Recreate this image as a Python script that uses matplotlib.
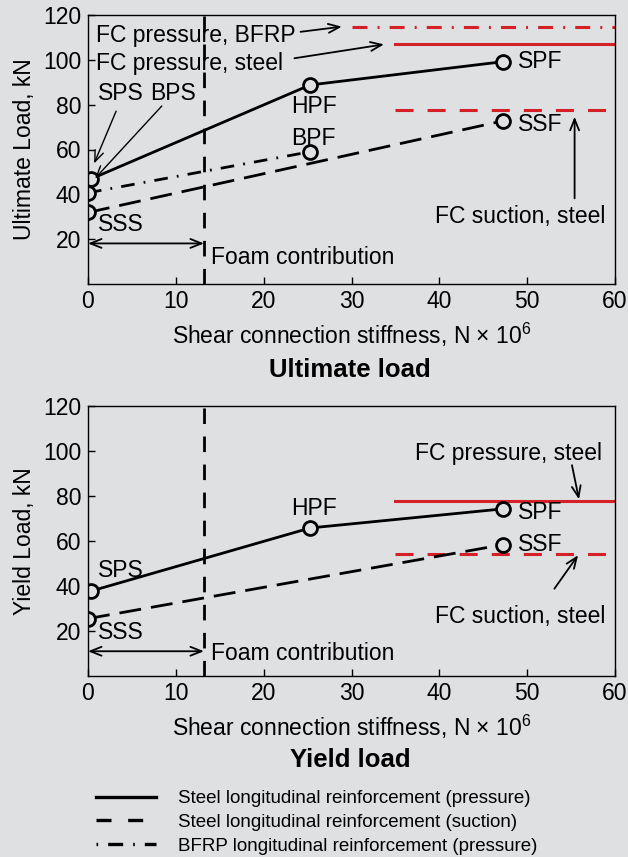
import numpy as np
import matplotlib
matplotlib.use("Agg")
import matplotlib.pyplot as plt
from matplotlib.lines import Line2D

# ======================
# Data (kN vs shear connection stiffness, N x 10^6)
# ======================
# ultimate load
ult_x_steel_p = [0.3, 25.3, 47.3]
ult_y_steel_p = [46.8, 88.8, 99.2]
ult_x_steel_s = [0.0, 47.3]
ult_y_steel_s = [31.9, 72.8]
ult_x_bfrp_p = [0.0, 25.3]
ult_y_bfrp_p = [40.7, 59.0]
ult_fc_bfrp_p = 114.5
ult_fc_steel_p = 106.9
ult_fc_steel_s = 77.6

# yield load
yld_x_steel_p = [0.3, 25.3, 47.3]
yld_y_steel_p = [37.7, 65.8, 74.3]
yld_x_steel_s = [0.0, 47.3]
yld_y_steel_s = [25.5, 58.4]
yld_fc_steel_p = 77.6
yld_fc_steel_s = 54.4

foam_x = 13.2          # foam contribution limit
fc_x = [35, 60]        # extent of full-composite reference lines
fc_x_bfrp = [30, 60]

xticks = [0, 10, 20, 30, 40, 50, 60]
yticks = [20, 40, 60, 80, 100, 120]

# ======================
# Style
# ======================
BG = "#dfe0e2"
RED = "#d42027"
FS = 16.5
plt.rcParams["font.family"] = ["Liberation Sans", "DejaVu Sans"]
plt.rcParams["mathtext.fontset"] = "custom"
plt.rcParams["mathtext.rm"] = "Liberation Sans"
plt.rcParams["mathtext.it"] = "Liberation Sans:italic"

SOLID = "-"
DASH = (0, (7.9, 3.6))
DASHDOT = (0, (4.9, 3.3, 0.65, 3.3))
RDASH = (0, (5.9, 4.6))
RDASHDOT = (0, (4.9, 3.3, 0.65, 3.3))
VDASH = (0, (5.6, 4.5))
HEAD = "->,head_length=0.8,head_width=0.32"

mk = dict(marker="o", ms=10, mew=2, mfc=BG, mec="k")

fig = plt.figure(figsize=(6.28, 8.57), dpi=100, facecolor=BG)
ax1 = fig.add_axes([88 / 628, 1 - 284 / 857, 527 / 628, 269 / 857])
ax2 = fig.add_axes([88 / 628, 1 - 676 / 857, 527 / 628, 270 / 857])


def setup(ax, ylabel):
    ax.set_facecolor(BG)
    ax.set_xlim(0, 60)
    ax.set_ylim(0, 120)
    ax.set_xticks(xticks)
    ax.set_yticks(yticks)
    ax.tick_params(direction="in", length=5, width=1, labelsize=FS, pad=4)
    ax.tick_params(axis="y", pad=5)
    for s in ax.spines.values():
        s.set_linewidth(1)
    ax.set_xlabel(r"Shear connection stiffness, N $\times$ 10$^6$", fontsize=FS, labelpad=6)
    ax.set_ylabel(ylabel, fontsize=FS, labelpad=5)
    ax.axvline(foam_x, color="k", lw=2, ls=VDASH)


def arrow(ax, xy, xytext, lw=1.3, style=HEAD):
    ax.annotate("", xy=xy, xytext=xytext,
                arrowprops=dict(arrowstyle=style, color="k", lw=lw, shrinkA=0, shrinkB=0))


# ======================
# Ultimate load
# ======================
setup(ax1, "Ultimate Load, kN")
ax1.plot(fc_x_bfrp, [ult_fc_bfrp_p] * 2, color=RED, lw=2.2, ls=RDASHDOT)
ax1.plot(fc_x, [ult_fc_steel_p] * 2, color=RED, lw=2.2, ls=SOLID)
ax1.plot(fc_x, [ult_fc_steel_s] * 2, color=RED, lw=2.2, ls=RDASH)
ax1.plot(ult_x_steel_s, ult_y_steel_s, color="k", lw=2, ls=DASH, **mk)
ax1.plot(ult_x_bfrp_p, ult_y_bfrp_p, color="k", lw=2, ls=DASHDOT, **mk)
ax1.plot(ult_x_steel_p, ult_y_steel_p, color="k", lw=2, ls=SOLID, **mk)

ax1.text(0.9, 108.1, "FC pressure, BFRP", fontsize=FS)
ax1.text(0.9, 95.4, "FC pressure, steel", fontsize=FS)
ax1.text(1.1, 82.1, "SPS", fontsize=FS)
ax1.text(7.1, 82.1, "BPS", fontsize=FS)
ax1.text(25.7, 76.4, "HPF", fontsize=FS, ha="center")
ax1.text(25.7, 62.0, "BPF", fontsize=FS, ha="center")
ax1.text(49.0, 96.5, "SPF", fontsize=FS)
ax1.text(49.0, 68.4, "SSF", fontsize=FS)
ax1.text(1.1, 23.6, "SSS", fontsize=FS)
ax1.text(58.9, 27.0, "FC suction, steel", fontsize=FS, ha="right")
ax1.text(14.0, 8.7, "Foam contribution", fontsize=FS)

arrow(ax1, (28.9, 114.8), (24.2, 112.5))
arrow(ax1, (33.7, 106.9), (23.5, 100.7))
arrow(ax1, (0.7, 53.8), (3.2, 77.1), lw=1.0)
arrow(ax1, (0.8, 47.1), (8.4, 79.4), lw=1.0)
arrow(ax1, (55.4, 74.6), (55.4, 38.2))
arrow(ax1, (foam_x, 18.1), (0, 18.1), style="<" + HEAD)

# ======================
# Yield load
# ======================
setup(ax2, "Yield Load, kN")
ax2.plot(fc_x, [yld_fc_steel_p] * 2, color=RED, lw=2.2, ls=SOLID)
ax2.plot([35, 59], [yld_fc_steel_s] * 2, color=RED, lw=2.2, ls=RDASH)
ax2.plot(yld_x_steel_s, yld_y_steel_s, color="k", lw=2, ls=DASH, **mk)
ax2.plot(yld_x_steel_p, yld_y_steel_p, color="k", lw=2, ls=SOLID, **mk)

ax2.text(25.7, 71.5, "HPF", fontsize=FS, ha="center")
ax2.text(49.0, 69.6, "SPF", fontsize=FS)
ax2.text(49.0, 55.6, "SSF", fontsize=FS)
ax2.text(1.1, 44.0, "SPS", fontsize=FS)
ax2.text(1.1, 16.6, "SSS", fontsize=FS)
ax2.text(58.5, 96.0, "FC pressure, steel", fontsize=FS, ha="right")
ax2.text(58.9, 23.6, "FC suction, steel", fontsize=FS, ha="right")
ax2.text(14.0, 7.3, "Foam contribution", fontsize=FS)

arrow(ax2, (55.9, 78.5), (55.1, 93.7))
arrow(ax2, (55.8, 53.7), (53.1, 38.8))
arrow(ax2, (foam_x, 11.0), (0, 11.0), style="<" + HEAD)

# ======================
# Titles and legend
# ======================
fig.text(350 / 628, 1 - 370 / 857, "Ultimate load", fontsize=18.5, fontweight="bold",
         ha="center", va="center")
fig.text(350 / 628, 1 - 760 / 857, "Yield load", fontsize=18.5, fontweight="bold",
         ha="center", va="center")

handles = [
    Line2D([], [], color="k", lw=2.4, ls=SOLID),
    Line2D([], [], color="k", lw=2.4, ls=(0, (4.5, 5.0))),
    Line2D([], [], color="k", lw=2.4, ls=(0, (0.5, 3.0, 4.5, 3.0))),
]
labels = [
    "Steel longitudinal reinforcement (pressure)",
    "Steel longitudinal reinforcement (suction)",
    "BFRP longitudinal reinforcement (pressure)",
]
fig.legend(handles, labels, loc="upper left", bbox_to_anchor=(96 / 628, 1 - 790 / 857),
           frameon=False, fontsize=13.5, handlelength=3.2, handletextpad=1.2,
           labelspacing=0.36, borderpad=0, borderaxespad=0)

fig.savefig("out.png", dpi=100, facecolor=BG)
